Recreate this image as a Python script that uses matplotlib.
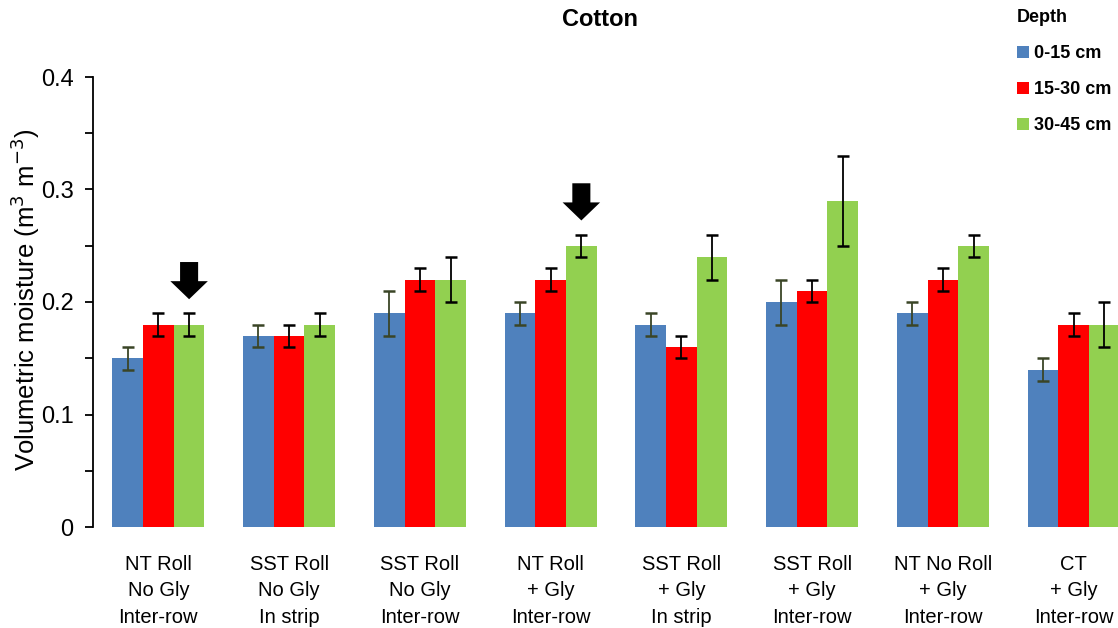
import numpy as np
import matplotlib.pyplot as plt
from matplotlib.ticker import MultipleLocator, FuncFormatter

plt.rcParams["font.family"] = ["Liberation Sans", "DejaVu Sans"]

groups = ["NT Roll\nNo Gly\nInter-row", "SST Roll\nNo Gly\nIn strip", "SST Roll\nNo Gly\nInter-row",
          "NT Roll\n+ Gly\nInter-row", "SST Roll\n+ Gly\nIn strip", "SST Roll\n+ Gly\nInter-row",
          "NT No Roll\n+ Gly\nInter-row", "CT\n+ Gly\nInter-row"]
depths = ["0-15 cm", "15-30 cm", "30-45 cm"]
d0_15 = [0.15, 0.17, 0.19, 0.19, 0.18, 0.20, 0.19, 0.14]
d15_30 = [0.18, 0.17, 0.22, 0.22, 0.16, 0.21, 0.22, 0.18]
d30_45 = [0.18, 0.18, 0.22, 0.25, 0.24, 0.29, 0.25, 0.18]
e0_15 = [0.01, 0.01, 0.02, 0.01, 0.01, 0.02, 0.01, 0.01]
e15_30 = [0.01, 0.01, 0.01, 0.01, 0.01, 0.01, 0.01, 0.01]
e30_45 = [0.01, 0.01, 0.02, 0.01, 0.02, 0.04, 0.01, 0.02]
arrow_groups = [0, 3]  # green bars marked with an arrow

colors = ["#4F81BD", "#FF0000", "#92D050"]
ecolors = ["#3a4526", "black", "black"]

fig = plt.figure(figsize=(11.18, 6.28), dpi=100)
ax = fig.add_axes([93 / 1118, 1 - 527 / 628, 1046 / 1118, 450 / 628])

x = np.arange(len(groups))
w = 0.235
series = [d0_15, d15_30, d30_45]
errs = [e0_15, e15_30, e30_45]
for i, (vals, err) in enumerate(zip(series, errs)):
    ax.bar(x + (i - 1) * w, vals, w, color=colors[i], label=depths[i], clip_on=False)
    ax.errorbar(x + (i - 1) * w, vals, yerr=err, fmt="none", ecolor=ecolors[i],
                elinewidth=1.3, capsize=4, capthick=1.8, clip_on=False)

for g in arrow_groups:
    top = d30_45[g] + e30_45[g]
    ax.annotate("", xy=(g + w, top + 0.01), xytext=(g + w, top + 0.048),
                arrowprops=dict(arrowstyle="simple,head_width=1.35,head_length=0.65,tail_width=0.65",
                                color="black", mutation_scale=20, lw=0))

ax.set_xlim(-0.5, 7.5)
ax.set_ylim(0, 0.4)
ax.yaxis.set_major_locator(MultipleLocator(0.1))
ax.yaxis.set_minor_locator(MultipleLocator(0.05))
ax.yaxis.set_major_formatter(FuncFormatter(lambda v, p: "0" if abs(v) < 1e-9 else f"{v:.1f}"))
ax.tick_params(axis="y", which="both", direction="out", length=6, width=1.3, labelsize=17, pad=8)
ax.tick_params(axis="x", length=0, labelsize=14.5, pad=20)
ax.set_xticks(x)
ax.set_xticklabels(groups, linespacing=1.5)
for s in ["top", "right", "bottom"]:
    ax.spines[s].set_visible(False)
ax.spines["left"].set_linewidth(1.3)

fig.text(25 / 1118, 1 - 300 / 628, "Volumetric moisture (m$^{3}$ m$^{-3}$)", rotation=90,
         ha="center", va="center", fontsize=18.5)
fig.text(600 / 1118, 1 - 20 / 628, "Cotton", ha="center", va="center", fontsize=17, fontweight="bold")

leg = ax.legend(loc="upper left", bbox_to_anchor=(1001 / 1118, 1 + 7 / 628), bbox_transform=fig.transFigure,
                frameon=False, title="Depth", handlelength=0.65, handleheight=0.65, handletextpad=0.3,
                labelspacing=1.05, prop={"weight": "bold", "size": 13})
leg.get_title().set_fontweight("bold")
leg.get_title().set_fontsize(13)
leg._legend_box.align = "left"

fig.savefig("out.png", dpi=100)
